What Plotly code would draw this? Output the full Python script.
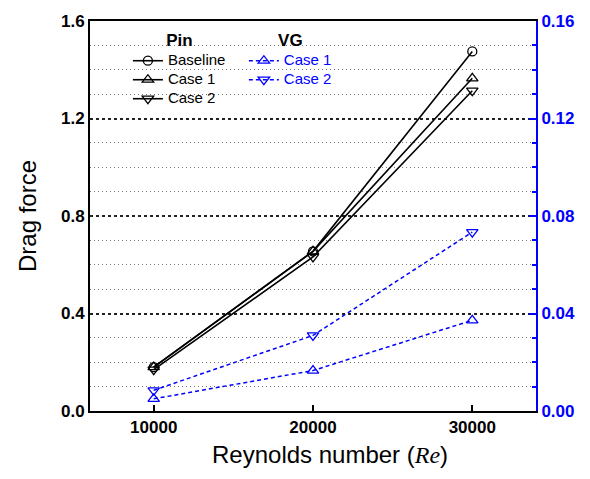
import plotly.graph_objects as go

re_vals = [10000, 20000, 30000]
pin_baseline = [0.18, 0.655, 1.475]
pin_case1 = [0.18, 0.655, 1.365]
pin_case2 = [0.17, 0.632, 1.314]
vg_case1 = [0.005, 0.0166, 0.0372]
vg_case2 = [0.0085, 0.031, 0.0734]

BLUE = "#0000ff"
FONT = "Liberation Sans, Arial, sans-serif"


def nm(s):
    return f'<span style="font-size:15px">{s}</span>'


fig = go.Figure()

line_k = dict(color="black", width=1.6)
fig.add_trace(go.Scatter(x=re_vals, y=pin_baseline, name=nm("Baseline"), mode="lines+markers",
                         line=line_k, marker=dict(symbol="circle-open", size=9, color="black", line=dict(width=1.3)),
                         legend="legend"))
fig.add_trace(go.Scatter(x=re_vals, y=pin_case1, name=nm("Case 1"), mode="lines+markers",
                         line=line_k, marker=dict(symbol="triangle-up-open", size=10, color="black", line=dict(width=1.3)),
                         legend="legend"))
fig.add_trace(go.Scatter(x=re_vals, y=pin_case2, name=nm("Case 2"), mode="lines+markers",
                         line=line_k, marker=dict(symbol="triangle-down-open", size=10, color="black", line=dict(width=1.3)),
                         legend="legend"))
line_b = dict(color=BLUE, width=1.5, dash="4px,3px")
fig.add_trace(go.Scatter(x=re_vals, y=vg_case1, name=nm("Case 1"), mode="lines+markers", yaxis="y2",
                         line=line_b, marker=dict(symbol="triangle-up-open", size=10, color=BLUE, line=dict(width=1.3)),
                         legend="legend2"))
fig.add_trace(go.Scatter(x=re_vals, y=vg_case2, name=nm("Case 2"), mode="lines+markers", yaxis="y2",
                         line=line_b, marker=dict(symbol="triangle-down-open", size=10, color=BLUE, line=dict(width=1.3)),
                         legend="legend2"))

fig.update_layout(
    width=590, height=479,
    margin=dict(l=90, r=54, t=17, b=68),
    paper_bgcolor="white", plot_bgcolor="white",
    font=dict(family=FONT, color="black"),
    xaxis=dict(
        range=[6000, 34000], tickvals=re_vals, ticktext=[str(v) for v in re_vals],
        ticks="inside", ticklen=6, tickwidth=1.5, tickcolor="black",
        tickfont=dict(size=17, family=FONT, weight="bold"),
        showline=True, linecolor="black", linewidth=2, mirror=True,
        showgrid=False, zeroline=False,
    ),
    yaxis=dict(
        range=[0, 1.6], dtick=0.4, tickformat=".1f",
        ticks="", tickfont=dict(size=17, family=FONT, weight="bold"),
        showline=True, linecolor="black", linewidth=2,
        showgrid=True, gridcolor="#222222", griddash="3px,3px", gridwidth=1.5,
        minor=dict(dtick=0.1, showgrid=True, gridcolor="#777777", griddash="1px,3px", gridwidth=1),
        zeroline=False,
        title=dict(text="Drag force", font=dict(size=24), standoff=18),
    ),
    yaxis2=dict(
        range=[0, 0.16], dtick=0.04, tickformat=".2f", overlaying="y", side="right",
        ticks="inside", ticklen=7, tickwidth=1.5, tickcolor=BLUE,
        tickfont=dict(size=17, family=FONT, weight="bold", color=BLUE),
        showline=True, linecolor=BLUE, linewidth=2, showgrid=False, zeroline=False,
        minor=dict(dtick=0.01, ticks="inside", ticklen=4, tickwidth=1.5, tickcolor=BLUE),
    ),
    legend=dict(
        x=0.085, y=0.982, xanchor="left", yanchor="top", bgcolor="rgba(0,0,0,0)",
        font=dict(size=12, color="black"), itemwidth=30, tracegroupgap=0,
        title=dict(text='<b><span style="font-size:17px">Pin</span></b>', side="top center", font=dict(size=14)),
    ),
    legend2=dict(
        x=0.345, y=0.982, xanchor="left", yanchor="top", bgcolor="rgba(0,0,0,0)",
        font=dict(size=12, color=BLUE), itemwidth=30, tracegroupgap=0,
        title=dict(text='<b><span style="font-size:17px">VG</span></b>', side="top center", font=dict(size=14, color="black")),
    ),
    annotations=[dict(
        text='Reynolds number (<span style="font-family:Liberation Serif"><i>Re</i></span>)',
        xref="paper", yref="paper", x=0.538, y=-0.112, xanchor="center", yanchor="middle",
        showarrow=False, font=dict(size=24, family=FONT, color="black"),
    )],
)

fig.write_html("out.html")
